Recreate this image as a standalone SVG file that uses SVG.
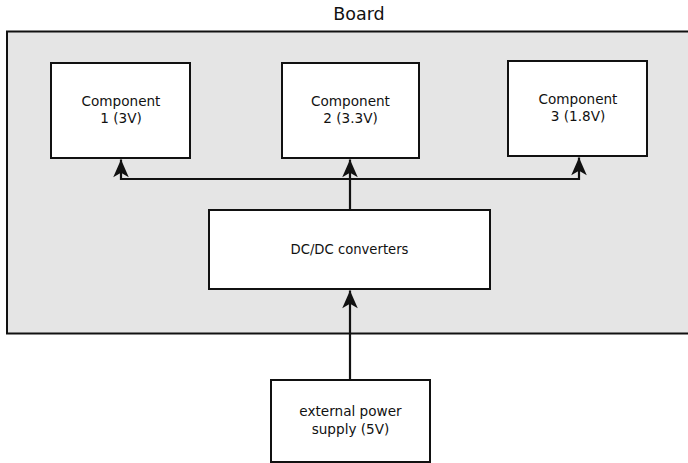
<svg xmlns="http://www.w3.org/2000/svg" width="688" height="463" viewBox="0 0 688 463">
<style>
.box{fill:#ffffff;stroke:#111111;stroke-width:2}
.lbl{font-family:"DejaVu Sans",sans-serif;font-size:13.6px;fill:#111111;text-anchor:middle}
.wire{fill:none;stroke:#111111;stroke-width:2.2}
</style>
<defs>
<marker id="arr" markerUnits="userSpaceOnUse" markerWidth="20" markerHeight="20" viewBox="-17 -8 18 16" refX="0" refY="0" orient="auto">
<path d="M0,0 L-16,-7 L-12,0 L-16,7 Z" fill="#111111"/>
</marker>
</defs>
<rect width="688" height="463" fill="#ffffff"/>
<g id="board">
<rect x="7" y="31.5" width="690" height="302" fill="#e5e5e5" stroke="#111111" stroke-width="2"/>
<text x="359" y="20" class="lbl" style="font-size:17.5px">Board</text>
</g>
<g id="comp1">
<rect class="box" x="51" y="63" width="139" height="95"/>
<text class="lbl" x="121" y="106">Component</text>
<text class="lbl" x="121" y="123">1 (3V)</text>
</g>
<g id="comp2">
<rect class="box" x="282" y="63" width="137" height="95"/>
<text class="lbl" x="350.5" y="106">Component</text>
<text class="lbl" x="350.5" y="123">2 (3.3V)</text>
</g>
<g id="comp3">
<rect class="box" x="508" y="61" width="139" height="95"/>
<text class="lbl" x="578" y="104">Component</text>
<text class="lbl" x="578" y="121">3 (1.8V)</text>
</g>
<g id="dcdc">
<rect class="box" x="209" y="210" width="281" height="79"/>
<text class="lbl" x="349.5" y="254" style="font-size:13.2px">DC/DC converters</text>
</g>
<g id="supply">
<rect class="box" x="271" y="380" width="159" height="82"/>
<text class="lbl" x="350.5" y="416">external power</text>
<text class="lbl" x="350.5" y="434">supply (5V)</text>
</g>
<g id="connectors">
<path class="wire" d="M350,210 L350,159.5" marker-end="url(#arr)"/>
<path class="wire" d="M350,179 L121,179 L121,159.5" marker-end="url(#arr)"/>
<path class="wire" d="M350,179 L579,179 L579,157.5" marker-end="url(#arr)"/>
<path class="wire" d="M350,380 L350,290.5" marker-end="url(#arr)"/>
</g>
</svg>
